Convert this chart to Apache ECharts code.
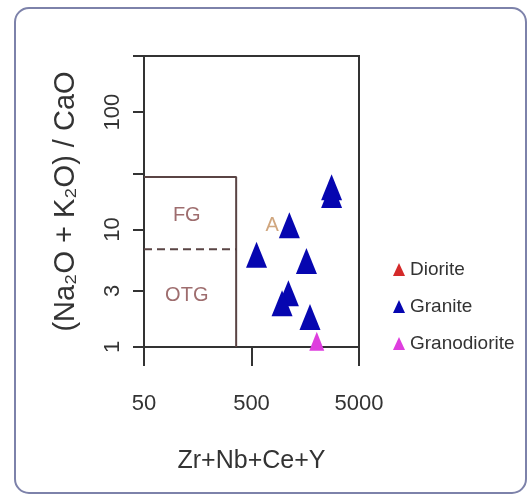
<!DOCTYPE html>
<html><head><meta charset="utf-8">
<script src="https://cdn.jsdelivr.net/npm/echarts@6/dist/echarts.min.js"></script>
<style>html,body{margin:0;padding:0;background:#fff}#c{width:528px;height:495px}</style>
</head><body><div id="c"></div>
<script>
const seriesNames = ['Diorite', 'Granite', 'Granodiorite'];
const dioriteData = [];
const graniteData = [[2780, 22.9], [2780, 19.7], [1125, 10.9], [557, 6.1], [1622, 5.4], [1102, 2.87], [962, 2.36], [1750, 1.80]];
const granodioriteData = [[2024, 1.12]];
const xTicks = [50, 500, 5000];
const yTicks = [1, 3, 10, 30, 100, 300];
const yLabels = [1, 3, 10, 100];
const fieldBox = [[50, 28], [360, 28], [360, 1]];
const fieldDivider = [[50, 6.8], [360, 6.8]];
const fieldLabels = [
  { name: 'FG', value: [125, 13.2] },
  { name: 'OTG', value: [125, 2.76] },
  { name: 'A', value: [780, 10.9], label: { color: '#c4905e' } }
];

const chart = echarts.init(document.getElementById('c'));
const FONT = 'Liberation Sans, Arial, sans-serif';
chart.setOption({
  animation: false,
  backgroundColor: '#fff',
  graphic: [{
    type: 'rect', shape: { x: 15, y: 8, width: 511, height: 485, r: 14 },
    style: { fill: 'none', stroke: '#7d82aa', lineWidth: 2 }, silent: true
  }],
  grid: { left: 144, right: 169, top: 56, bottom: 148, show: true, borderColor: '#333', borderWidth: 2, backgroundColor: 'transparent' },
  legend: {
    orient: 'vertical', left: 388, top: 255, itemWidth: 12, itemHeight: 13, itemGap: 18,
    icon: 'triangle', data: seriesNames,
    textStyle: { fontFamily: FONT, fontSize: 19, color: '#333' }
  },
  xAxis: {
    type: 'log', min: 50, max: 5000,
    name: 'Zr+Nb+Ce+Y', nameLocation: 'middle', nameGap: 102,
    nameTextStyle: { fontFamily: FONT, fontSize: 25, color: '#333' },
    axisLine: { show: false },
    axisTick: { show: true, inside: false, length: 19, lineStyle: { color: '#333', width: 2 }, customValues: xTicks },
    axisLabel: { fontFamily: FONT, fontSize: 22, color: '#333', margin: 46, customValues: xTicks, formatter: v => String(v) },
    splitLine: { show: false }, minorTick: { show: false }
  },
  yAxis: {
    type: 'log', min: 1, max: 300,
    name: '(Na₂O + K₂O) / CaO', nameLocation: 'middle', nameGap: 64, nameRotate: 90,
    nameTextStyle: { fontFamily: FONT, fontSize: 29, color: '#333' },
    axisLine: { show: false },
    axisTick: { show: true, inside: false, length: 11, lineStyle: { color: '#333', width: 2 }, customValues: yTicks },
    axisLabel: { fontFamily: FONT, fontSize: 22, color: '#333', margin: 20, rotate: 90, customValues: yLabels, formatter: v => String(v) },
    splitLine: { show: false }, minorTick: { show: false }
  },
  series: [
    {
      name: 'fieldBox', type: 'line', data: fieldBox, symbol: 'none', z: 1,
      lineStyle: { color: '#5a4444', width: 2 }, silent: true
    },
    {
      name: 'fieldDivider', type: 'line', data: fieldDivider, symbol: 'none', z: 1,
      lineStyle: { color: '#5a4444', width: 2, type: [8, 5] }, silent: true
    },
    {
      name: 'fieldLabels', type: 'scatter', data: fieldLabels, symbolSize: 0, z: 1, silent: true,
      label: {
        show: true, position: 'inside', formatter: '{b}', fontFamily: FONT, fontSize: 20,
        color: '#86484a'
      }
    },
    { name: 'Diorite', type: 'scatter', data: dioriteData, symbol: 'triangle', symbolSize: [21, 26], itemStyle: { color: '#d42a2a', opacity: 1 }, z: 3 },
    { name: 'Granite', type: 'scatter', data: graniteData, symbol: 'triangle', symbolSize: [21, 26], itemStyle: { color: '#0606b0', opacity: 1 }, z: 3 },
    { name: 'Granodiorite', type: 'scatter', data: granodioriteData, symbol: 'triangle', symbolSize: [15, 19], itemStyle: { color: '#de3ede', opacity: 1 }, z: 3 }
  ]
});
</script></body></html>
